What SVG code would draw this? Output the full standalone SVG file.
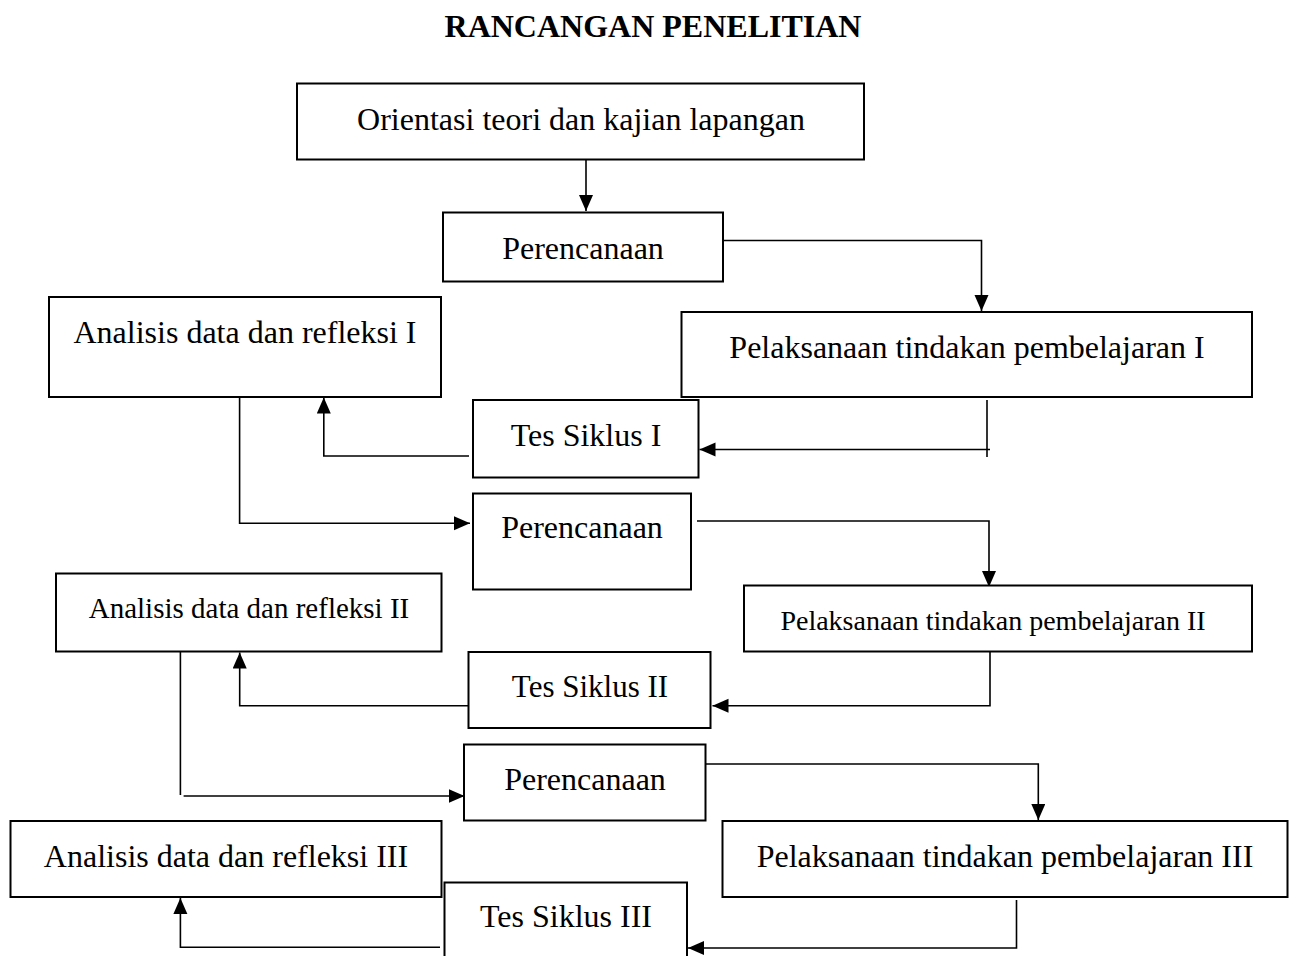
<svg xmlns="http://www.w3.org/2000/svg" width="1293" height="956" viewBox="0 0 1293 956">
<style>
.box{fill:#fff;stroke:#000;stroke-width:2}
.t{font-family:"Liberation Serif","Times New Roman",serif;font-size:32px;fill:#000;text-anchor:middle}
.title{font-family:"Liberation Serif","Times New Roman",serif;font-size:32px;font-weight:bold;fill:#000;text-anchor:middle}
.c{fill:none;stroke:#000;stroke-width:1.6}
</style>
<defs>
<marker id="ah" markerUnits="userSpaceOnUse" markerWidth="17" markerHeight="15" refX="16" refY="7" orient="auto">
<path d="M0,0 L16,7 L0,14 z" fill="#000"/>
</marker>
</defs>
<rect width="1293" height="956" fill="#fff"/>
<text class="title" x="653" y="37">RANCANGAN PENELITIAN</text>

<g id="connectors">
<path class="c" d="M586,160 V211" marker-end="url(#ah)"/>
<path class="c" d="M724,240.5 H981.5 V311" marker-end="url(#ah)"/>
<path class="c" d="M987,400 V457"/>
<path class="c" d="M990,449.5 H699.5" marker-end="url(#ah)"/>
<path class="c" d="M469,456 H323.8 V397.5" marker-end="url(#ah)"/>
<path class="c" d="M239.6,397 V523.3 H470" marker-end="url(#ah)"/>
<path class="c" d="M697,521 H989 V587" marker-end="url(#ah)"/>
<path class="c" d="M990,652 V705.7 H712.5" marker-end="url(#ah)"/>
<path class="c" d="M468,705.7 H239.7 V652.5" marker-end="url(#ah)"/>
<path class="c" d="M180.4,652 V795"/>
<path class="c" d="M183.6,796 H464.5" marker-end="url(#ah)"/>
<path class="c" d="M702.4,764 H1038.3 V820" marker-end="url(#ah)"/>
<path class="c" d="M1016.5,900 V948 H688" marker-end="url(#ah)"/>
<path class="c" d="M440,947.3 H180.4 V898" marker-end="url(#ah)"/>
</g>

<g id="orientasi"><rect class="box" x="297" y="83.5" width="567" height="76"/><text class="t" x="581" y="130">Orientasi teori dan kajian lapangan</text></g>
<g id="perencanaan1"><rect class="box" x="443" y="212.5" width="280" height="69"/><text class="t" x="583" y="259">Perencanaan</text></g>
<g id="analisis1"><rect class="box" x="49" y="297" width="392" height="100"/><text class="t" x="245" y="343">Analisis data dan refleksi I</text></g>
<g id="pelaksanaan1"><rect class="box" x="681.5" y="312" width="570.5" height="85"/><text class="t" x="967" y="358">Pelaksanaan tindakan pembelajaran I</text></g>
<g id="tes1"><rect class="box" x="473" y="400" width="225.5" height="77.5"/><text class="t" x="586" y="446">Tes Siklus I</text></g>
<g id="perencanaan2"><rect class="box" x="473" y="493.5" width="218" height="96"/><text class="t" x="582" y="538">Perencanaan</text></g>
<g id="analisis2"><rect class="box" x="56" y="573.5" width="385.5" height="78"/><text class="t" x="249" y="618" style="font-size:29px">Analisis data dan refleksi II</text></g>
<g id="pelaksanaan2"><rect class="box" x="744" y="585.5" width="508" height="66"/><text class="t" x="993" y="630" style="font-size:28px">Pelaksanaan tindakan pembelajaran II</text></g>
<g id="tes2"><rect class="box" x="468.5" y="652" width="242" height="76"/><text class="t" x="590" y="697" style="font-size:31px">Tes Siklus II</text></g>
<g id="perencanaan3"><rect class="box" x="464" y="744.5" width="241.5" height="76"/><text class="t" x="585" y="790">Perencanaan</text></g>
<g id="analisis3"><rect class="box" x="10.5" y="821" width="431" height="76"/><text class="t" x="226" y="867">Analisis data dan refleksi III</text></g>
<g id="pelaksanaan3"><rect class="box" x="722.5" y="821" width="565" height="76"/><text class="t" x="1005" y="867">Pelaksanaan tindakan pembelajaran III</text></g>
<g id="tes3"><rect class="box" x="444.5" y="882.5" width="242.5" height="90"/><text class="t" x="566" y="927">Tes Siklus III</text></g>
</svg>
